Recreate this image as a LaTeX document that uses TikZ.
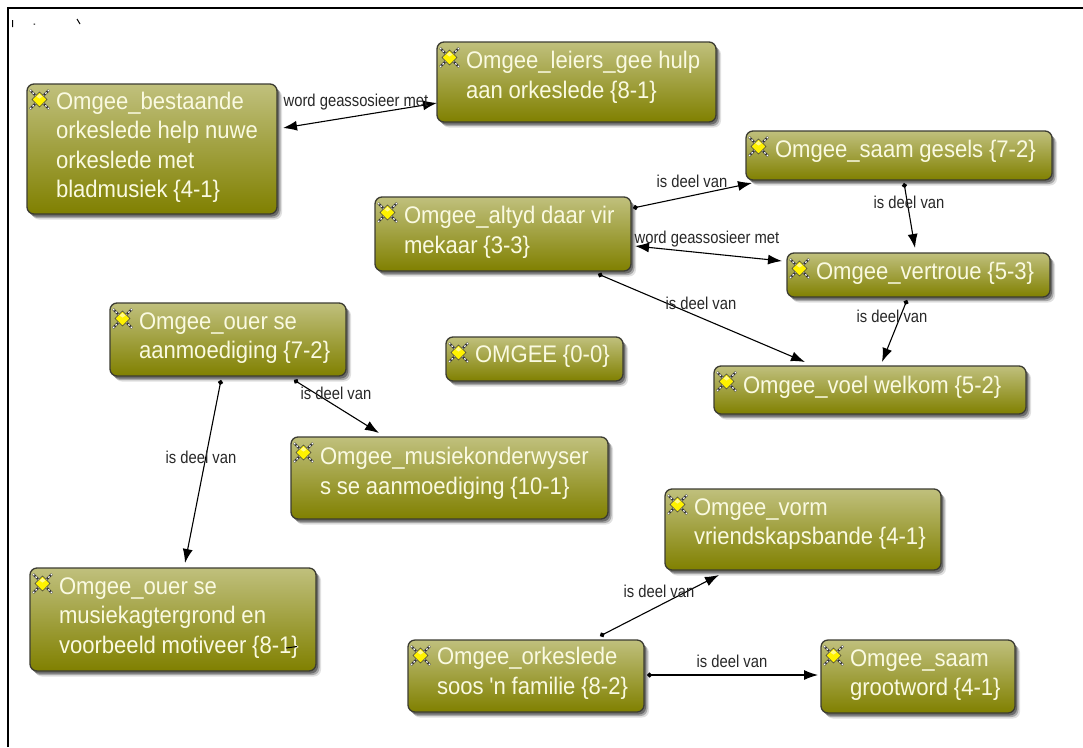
\documentclass[tikz,border=0pt]{standalone}
\usepackage{fontspec}
\setmainfont{Liberation Sans}
\usetikzlibrary{arrows.meta,shadows}
\newfontfamily\boxfont[FakeStretch=0.92]{Liberation Sans}
\newfontfamily\lblfont[FakeStretch=0.86]{Liberation Sans}
\definecolor{boxtop}{RGB}{192,192,125}
\definecolor{boxbot}{RGB}{128,128,0}
\definecolor{boxedge}{RGB}{60,60,50}
\definecolor{boxtext}{RGB}{250,250,225}
\definecolor{lbltext}{RGB}{40,40,40}
\tikzset{
  x=1pt,y=-1pt,
  box/.style={rounded corners=7pt,draw=boxedge,line width=1.3pt,top color=boxtop,bottom color=boxbot,
    drop shadow={shadow xshift=5pt,shadow yshift=-5.5pt,fill=black,opacity=.12},
    drop shadow={shadow xshift=3.5pt,shadow yshift=-4pt,fill=black,opacity=.25},
    drop shadow={shadow xshift=2pt,shadow yshift=-2.5pt,fill=black,opacity=.35},
    inner sep=0pt,outer sep=0pt,font=\boxfont\fontsize{24}{29.5}\selectfont,text=boxtext,align=left},
  lbl/.style={font=\lblfont\fontsize{17.2}{19}\selectfont,text=lbltext,inner sep=0pt},
  link/.style={line width=1.1pt,black,{Circle[length=5pt]}-{Latex[length=14pt,width=10pt]}},
  assoc/.style={line width=1.1pt,black,{Latex[length=14pt,width=10pt]}-{Latex[length=14pt,width=10pt]}},
  frameline/.style={line width=1.8pt,black},
  speck/.style={line width=1pt,black},
  pics/icon/.style={code={
    \draw[black!80,line width=2.2pt] (-9.5,-9.5)--(9.5,9.5) (-9.5,9.5)--(9.5,-9.5);
    \draw[white,line width=1.2pt,dash pattern=on 1.8pt off 1.8pt] (-9.5,-9.5)--(9.5,9.5) (-9.5,9.5)--(9.5,-9.5);
    \draw[fill=yellow,draw=black!75,line width=.6pt] (0,-7.5)--(7.5,0)--(0,7.5)--(-7.5,0)--cycle;
    \fill[white,opacity=.55] (0,-5.5)--(3,-3)--(0,-1)--(-3,-3)--cycle;
  }}
}
\newcommand{\ind}{\hspace*{29pt}}
% name, x1, y1, x2, y2, space under the text, text
\newcommand{\tbox}[7]{%
  \pgfmathsetmacro{\cx}{(#2+#4)/2}\pgfmathsetmacro{\cy}{(#3+#5)/2}%
  \pgfmathsetmacro{\bw}{#4-#2}\pgfmathsetmacro{\bh}{#5-#3}%
  \node[box,minimum width=\bw pt,minimum height=\bh pt,text width=\bw pt] (#1) at (\cx,\cy) {\spaceskip=5.8pt\relax #7\par\vspace*{#6pt}};
  \pic at ([shift={(12.5,15.5)}]#1.north west) {icon};
}
\begin{document}
\begin{tikzpicture}
\useasboundingbox (0,0) rectangle (1083,747);
\fill[white] (0,0) rectangle (1083,747);
\coordinate (fbl) at (8,747); \coordinate (ftl) at (8,8); \coordinate (ftr) at (1083,8);
\draw[frameline] (fbl) -- (ftl) -- (ftr);
\coordinate (s1a) at (12.5,20); \coordinate (s1b) at (12.5,27);
\coordinate (s2a) at (33.5,24); \coordinate (s2b) at (35,24);
\coordinate (s3a) at (77,19); \coordinate (s3b) at (80,24);
\draw[speck] (s1a)--(s1b) (s2a)--(s2b) (s3a)--(s3b);

\tbox{bestaande}{27}{84}{277}{214}{3}{\ind Omgee\_bestaande\\ \ind orkeslede help nuwe\\ \ind orkeslede met\\ \ind bladmusiek \{4-1\}}
\tbox{leiers}{437}{42}{716}{122}{9}{\ind Omgee\_leiers\_gee hulp\\ \ind aan orkeslede \{8-1\}}
\tbox{saam}{746}{131}{1052}{180}{9}{\ind Omgee\_saam gesels \{7-2\}}
\tbox{altyd}{375}{197}{631}{271}{3}{\ind Omgee\_altyd daar vir\\ \ind mekaar \{3-3\}}
\tbox{vertroue}{787}{253}{1050}{297}{3}{\ind Omgee\_vertroue \{5-3\}}
\tbox{welkom}{714}{366}{1026}{414}{5}{\ind Omgee\_voel welkom \{5-2\}}
\tbox{aanm}{110}{303}{346}{376}{3}{\ind Omgee\_ouer se\\ \ind aanmoediging \{7-2\}}
\tbox{omgee}{446}{337}{623}{381}{5}{\ind OMGEE \{0-0\}}
\tbox{onderw}{291}{437}{608}{519}{9}{\ind Omgee\_musiekonderwyser\\ \ind s se aanmoediging \{10-1\}}
\tbox{agter}{30}{568}{316}{671}{3}{\ind Omgee\_ouer se\\ \ind musiekagtergrond en\\ \ind voorbeeld motiveer \{8-1\}}
\tbox{vorm}{665}{489}{941}{570}{11}{\ind Omgee\_vorm\\ \ind vriendskapsbande \{4-1\}}
\tbox{familie}{408}{640}{644}{712}{5}{\ind Omgee\_orkeslede\\ \ind soos 'n familie \{8-2\}}
\tbox{groot}{821}{640}{1015}{713}{3}{\ind Omgee\_saam\\ \ind grootword \{4-1\}}

% connectors: offsets from a corner of the named node
\draw[assoc] ([shift={(6,44)}]bestaande.north east) -- ([shift={(0,61)}]leiers.north west);
\draw[link] ([shift={(2,11)}]altyd.north east) -- ([shift={(6,3)}]saam.south west);
\draw[assoc] ([shift={(4,49)}]altyd.north east) -- ([shift={(-5,8)}]vertroue.north west);
\draw[link] ([shift={(158,3)}]saam.south west) -- ([shift={(128,-5)}]vertroue.north west);
\draw[link] ([shift={(223,3)}]altyd.south west) -- ([shift={(91,-4)}]welkom.north west);
\draw[link] ([shift={(120,3)}]vertroue.south west) -- ([shift={(168,-4)}]welkom.north west);
\draw[link] ([shift={(184,4)}]aanm.south west) -- ([shift={(88,-4)}]onderw.north west);
\draw[link] ([shift={(111,4)}]aanm.south west) -- ([shift={(155,-5)}]agter.north west);
\draw[link] ([shift={(192,-4)}]familie.north west) -- ([shift={(54,5)}]vorm.south west);
\draw[link] ([shift={(3,35)}]familie.north east) -- ([shift={(-3,35)}]groot.north west);

\node[lbl] (l1) at (356,102) {word geassosieer met};
\node[lbl] (l2) at (692,181) {is deel van};
\node[lbl] (l3) at (707,239) {word geassosieer met};
\node[lbl] (l4) at (909,202) {is deel van};
\node[lbl] (l5) at (701,303) {is deel van};
\node[lbl] (l6) at (892,316) {is deel van};
\node[lbl] (l7) at (336,393) {is deel van};
\node[lbl] (l8) at (201,457) {is deel van};
\node[lbl] (l9) at (659,591) {is deel van};
\node[lbl] (l10) at (732,661) {is deel van};

\coordinate (s4a) at (286,648); \coordinate (s4b) at (297,646.5);
\draw[speck] (s4a)--(s4b);
\end{tikzpicture}
\end{document}
